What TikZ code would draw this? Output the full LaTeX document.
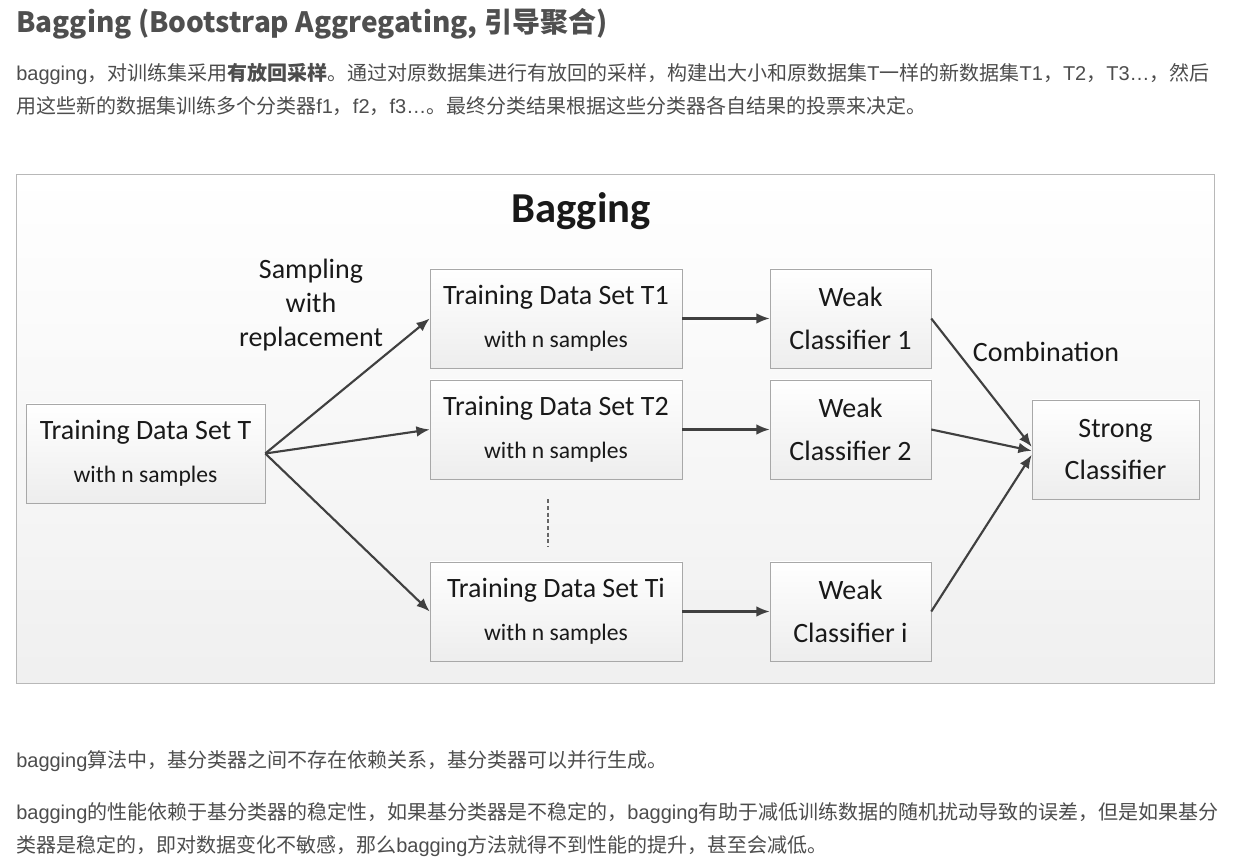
\documentclass[tikz,border=0pt]{standalone}
\usepackage{fontspec}
\setmainfont{Liberation Sans}
\newfontfamily\cjk{Noto Sans CJK SC}
\newfontfamily\lat{Liberation Sans}
\newfontfamily\dgm{Carlito}
\usepackage{xcolor}
\usetikzlibrary{arrows.meta, positioning, shadows}
\definecolor{pagetext}{HTML}{4D4D4D}
\definecolor{headtext}{HTML}{4F4F4F}
\definecolor{boxline}{HTML}{A8A8A8}
\definecolor{arrowgray}{HTML}{404040}
\newcommand{\subline}[1]{{\fontsize{17.7}{32}\selectfont #1}}
\tikzset{
  block/.style={rectangle, draw=boxline, top color=white, bottom color=black!7,
                minimum height=74.25pt, inner sep=0pt, align=center, text=black!90,
                font=\dgm\fontsize{21}{32}\selectfont,
                drop shadow={shadow xshift=1.1pt, shadow yshift=-1.1pt, opacity=0.35}},
  setblock/.style={block, minimum width=189pt},
  weakblock/.style={block, minimum width=120.75pt},
  arrow/.style={-{Latex[length=10pt,width=8pt]}, line width=1.6pt, draw=arrowgray},
  caption/.style={font=\dgm\fontsize{21}{25.5}\selectfont, align=center, text=black!90},
  bodyline/.style={anchor=base west, inner sep=0pt, text=pagetext,
                   font=\cjk\fontsize{15}{20}\selectfont},
}

\begin{document}
\begin{tikzpicture}[x=0.75pt, y=-0.75pt]
  \useasboundingbox (0,0) rectangle (1233,862);
  \fill[white] (0,0) rectangle (1233,862);

  \node[anchor=base west, inner sep=0pt, text=headtext,
        font=\cjk\bfseries\fontsize{21}{25}\selectfont] (head) at (16,33)
        {Bagging (Bootstrap Aggregating, 引导聚合)};
  \node[bodyline] (introA) at (16,80.5)
        {{\lat bagging}，对训练集采用\textbf{有放回采样}。通过对原数据集进行有放回的采样，构建出大小和原数据集{\lat T}一样的新数据集{\lat T1}，{\lat T2}，{\lat T3…}，然后};
  \node[bodyline] (introB) at (16,113.5)
        {用这些新的数据集训练多个分类器{\lat f1}，{\lat f2}，{\lat f3…}。最终分类结果根据这些分类器各自结果的投票来决定。};

  \draw[draw=black!28, top color=white, bottom color=black!6,
        drop shadow={shadow xshift=1.1pt, shadow yshift=-1.1pt, opacity=0.3}]
        (16,174) rectangle (1214,683);

  \node[font=\dgm\bfseries\fontsize{32}{38}\selectfont, text=black!90] (title) at (581,211) {Bagging};

  \node[block, minimum width=179.25pt] (setT) at (145.5,453.5) {Training Data Set T\\\subline{with n samples}};
  \node[setblock] (setA) at (556,318.5) {Training Data Set T1\\\subline{with n samples}};
  \node[setblock] (setB) at (556,429.5) {Training Data Set T2\\\subline{with n samples}};
  \node[setblock] (setI) at (556,611.5) {Training Data Set Ti\\\subline{with n samples}};
  \node[weakblock] (weakA) at (850.5,318.5) {Weak\\Classifier 1};
  \node[weakblock] (weakB) at (850.5,429.5) {Weak\\Classifier 2};
  \node[weakblock] (weakI) at (850.5,611.5) {Weak\\Classifier i};
  \node[block, minimum width=125.25pt] (strong) at (1115.5,449.5) {Strong\\Classifier};

  \node[caption] (sampling) at (311,305) {Sampling\\with\\replacement};
  \node[caption] (combine) at (1046,352) {Combination};

  \draw[arrow] (setT.east) -- (setA.west);
  \draw[arrow] (setT.east) -- (setB.west);
  \draw[arrow] (setT.east) -- (setI.west);
  \foreach \s/\w in {setA/weakA, setB/weakB, setI/weakI}
    \draw[arrow] (\s) -- (\w);
  \draw[arrow] (weakA.east) -- ([yshift=2pt]strong.west);
  \draw[arrow] (weakB.east) -- ([yshift=-1pt]strong.west);
  \draw[arrow] (weakI.east) -- ([yshift=-4pt]strong.west);
  \draw[black!60, line width=1pt, dash pattern=on 3pt off 2pt]
    ([xshift=-6pt,yshift=-15pt]setB.south) -- ([xshift=-6pt,yshift=11pt]setI.north);

  \node[bodyline] (noteA) at (16,768)
        {{\lat bagging}算法中，基分类器之间不存在依赖关系，基分类器可以并行生成。};
  \node[bodyline] (noteB) at (16,820)
        {{\lat bagging}的性能依赖于基分类器的稳定性，如果基分类器是不稳定的，{\lat bagging}有助于减低训练数据的随机扰动导致的误差，但是如果基分};
  \node[bodyline] (noteC) at (16,853)
        {类器是稳定的，即对数据变化不敏感，那么{\lat bagging}方法就得不到性能的提升，甚至会减低。};
\end{tikzpicture}
\end{document}
